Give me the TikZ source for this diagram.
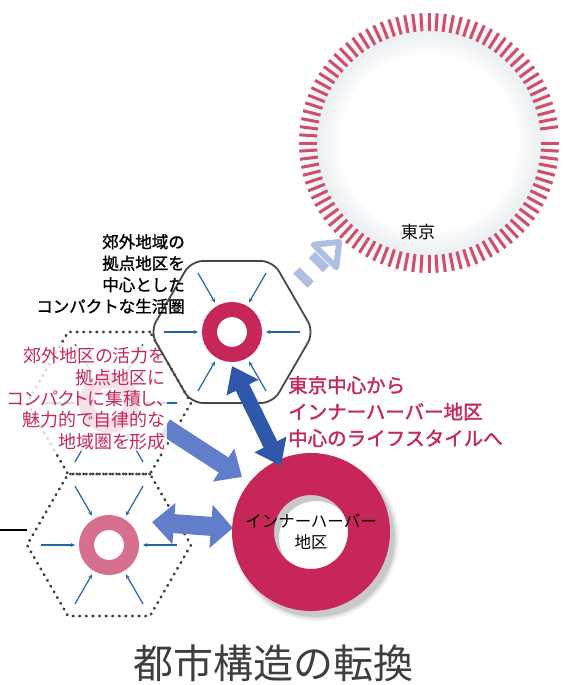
\documentclass[tikz,border=0pt]{standalone}
\usepackage{fontspec}
\usepackage{tikz}
\usetikzlibrary{
    arrows.meta,
    calc,
    shapes.geometric,
    positioning
}
\newfontfamily\jp{Noto Sans CJK JP}
\newfontfamily\jpm[FakeBold=1.2]{Noto Sans CJK JP}
\newfontfamily\jph[FakeBold=1.8]{Noto Sans CJK JP}
\newfontfamily\jpp[RawFeature=+palt]{Noto Sans CJK JP}
\definecolor{ringred}{RGB}{198,38,88}
\definecolor{ringpink}{RGB}{214,112,142}
\definecolor{dashred}{RGB}{206,78,108}
\definecolor{haze}{RGB}{176,192,204}
\definecolor{textred}{RGB}{196,42,90}
\definecolor{arrowdark}{RGB}{48,88,170}
\definecolor{arrowlight}{RGB}{98,126,202}
\definecolor{arrowpale}{RGB}{176,190,228}
\definecolor{inblue}{RGB}{35,100,170}
\definecolor{hexgray}{RGB}{72,72,72}
\definecolor{titlegray}{RGB}{62,62,62}

\begin{document}
\begin{tikzpicture}[
    x=1pt, y=-1pt,
    hexbase/.style={regular polygon, regular polygon sides=6, minimum size=164pt, inner sep=0pt, outer sep=0pt},
    hexsolid/.style={hexbase, draw=hexgray, line width=1.8pt, rounded corners=12pt},
    hexdot/.style={hexbase, draw=black!75, line width=2.8pt, line cap=round, dash pattern=on 0.6pt off 6pt},
    ring/.style={circle, line width=15pt, minimum size=45pt, inner sep=0pt, outer sep=0pt},
    inarrow/.style={-{Stealth[length=4.5pt,width=4pt]}, inblue, line width=1.2pt},
    linkarrow/.style={arrowdark, line width=15pt, {Triangle[length=24pt,width=34pt]}-{Triangle[length=24pt,width=34pt]}},
    feedarrow/.style={arrowlight, line width=18pt, -{Triangle[length=22pt,width=38pt]}},
    pairarrow/.style={arrowlight, line width=19pt, {Triangle[length=22pt,width=40pt]}-{Triangle[length=22pt,width=42pt]}}
]
    \fill[white] (0,0) rectangle (570,685);
    \useasboundingbox (0,0) rectangle (570,685);

    % Tokyo ring
    \coordinate (tokyo) at (429,143);
    \foreach \r/\op in {92/0.04,95/0.07,98/0.1,101/0.13,104/0.16,107/0.18,110/0.2,113/0.2,116/0.18,119/0.15,122/0.12,125/0.08,128/0.04}
        \draw[haze, line width=3.2pt, opacity=\op] (tokyo) circle (\r pt);
    \foreach \a in {0,3.6,...,356.4}
        \draw[dashred, line width=3pt] (tokyo) ++(\a:112) -- ++(\a:18);
    \node[font=\jp\fontsize{17}{17}\selectfont] (tokyoLabel) at (418,232) {東京};

    % pale arrow toward Tokyo
    \coordinate (toTail) at (300.3,280.7);
    \coordinate (toHead) at (325,256);
    \draw[arrowpale, line width=20pt, dash pattern=on 9pt off 13pt] (toTail) -- ($(toHead)+(-2.8,2.8)$);
    \draw[arrowpale, line width=6pt, line join=round, fill=white]
        ($(toHead)+(-11.3,-11.3)$) -- ($(toHead)+(14.1,-14.1)$) -- ($(toHead)+(11.3,11.3)$) -- cycle;

    % middle hexagon (behind the red text)
    \node[hexdot] (hexMid) at (109,403) {};
    \node[ring, draw=ringpink] (ringMid) at (hexMid) {};
    \foreach \a in {0,60,...,300}
        \draw[inarrow] ($(hexMid)+(\a:68)$) -- ($(hexMid)+(\a:34)$);

    % lower hexagon
    \node[hexdot] (hexLow) at (109,545) {};
    \node[ring, draw=ringpink] (ringLow) at (hexLow) {};
    \foreach \a in {0,60,...,300}
        \draw[inarrow] ($(hexLow)+(\a:68)$) -- ($(hexLow)+(\a:34)$);
    \coordinate (leadEnd) at (27,530);
    \draw[line width=1.2pt] (0,530) -- (leadEnd);

    % Inner Harbor ring
    \coordinate (shadow) at (316,538);
    \foreach \r/\op in {83/0.05,81/0.07,79/0.1}
        \fill[black, opacity=\op, even odd rule] (shadow) circle (\r pt) circle (37pt);
    \node[circle, draw=ringred, line width=42pt, minimum size=116pt, inner sep=0pt, outer sep=0pt] (bigRing) at (311,532) {};

    \draw[feedarrow] ($(hexMid)+(56,24)$) -- ($(bigRing)+(-69,-55)$);

    \node[font=\jpp\fontsize{18}{21.3}\selectfont, textred, align=right, anchor=north east,
          fill=white, fill opacity=0.8, text opacity=1, inner sep=1.5pt] (growthLabel) at (167,346)
        {郊外地区の活力を\\拠点地区に\\コンパクトに集積し、\\魅力的で自律的な\\地域圏を形成};

    % upper hexagon
    \node[hexsolid] (hexTop) at (232,332) {};
    \node[ring, draw=ringred] (ringTop) at (hexTop) {};
    \foreach \a in {0,60,...,300}
        \draw[inarrow] ($(hexTop)+(\a:68)$) -- ($(hexTop)+(\a:34)$);

    % connections
    \draw[linkarrow] ($(ringTop)+(0,34)$) -- ($(bigRing)+(-30,-66)$);
    \draw[pairarrow] ($(ringLow)+(43,-23)$) -- ($(bigRing)+(-78,-4)$);

    % labels
    \node[font=\jp\fontsize{16.5}{21.5}\selectfont, align=center, inner sep=0pt] (harborLabel) at (bigRing)
        {インナーハーバー\\地区};

    \node[font=\jpm\fontsize{16.5}{21.5}\selectfont, align=right, anchor=north east, inner sep=0pt] (hubLabel) at (185,234)
        {郊外地域の\\拠点地区を\\中心とした\\コンパクトな生活圏};

    \node[font=\jph\fontsize{19.5}{26.5}\selectfont, textred, align=left, anchor=north west, inner sep=0pt] (shiftLabel) at (288,376)
        {東京中心から\\インナーハーバー地区\\中心のライフスタイルへ};

    \node[font=\jp\fontsize{40}{40}\selectfont, titlegray] (title) at (273,663) {都市構造の転換};
\end{tikzpicture}
\end{document}
